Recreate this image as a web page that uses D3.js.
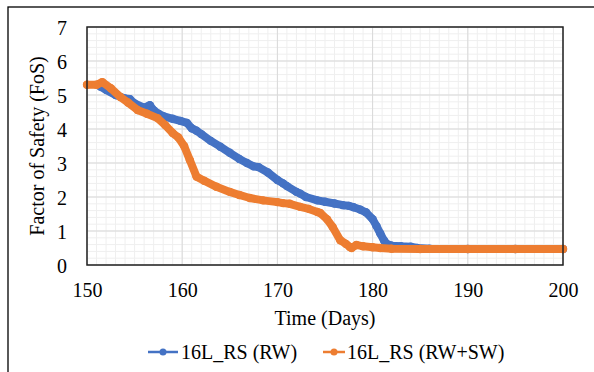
<!DOCTYPE html>
<html><head><meta charset="utf-8">
<script src="https://cdn.jsdelivr.net/npm/d3@7"></script>
<style>body{margin:0;background:#fff}svg{display:block}</style>
</head><body>
<script>
const days_RW = [151.4,152,153,154,154.5,155,156,156.6,157,157.5,158,159,159.8,160.5,161,161.5,162,163,164,165,166,166.8,167.5,168,169,170,170.6,171,172,172.4,173,174.2,175,176,176.9,177.5,178,178.7,179.3,180,180.4,180.8,181.2,181.5,182,183,184,184.7,186,190,195,200];
const fos_RW  = [5.25,5.15,5.0,4.9,4.88,4.75,4.63,4.7,4.55,4.45,4.38,4.3,4.24,4.18,4.02,3.95,3.85,3.65,3.48,3.3,3.12,3.0,2.9,2.88,2.72,2.5,2.4,2.32,2.15,2.1,2.0,1.9,1.86,1.81,1.76,1.74,1.7,1.63,1.55,1.35,1.15,0.93,0.72,0.62,0.57,0.55,0.54,0.5,0.48,0.47,0.47,0.47];
const days_RWSW = [150,151,151.6,152.5,153.5,154.3,155.3,156.3,157.4,158.2,159,159.6,160.2,160.8,161.5,162.3,163.6,165,166,167.1,168.5,170,170.6,171.3,172.4,173.3,174.2,174.5,175.2,175.8,176.6,177.2,177.6,177.8,178.3,179,180,180.8,182,185,190,195,200];
const fos_RWSW  = [5.3,5.3,5.38,5.2,4.94,4.78,4.56,4.45,4.32,4.12,3.88,3.75,3.5,3.09,2.6,2.48,2.3,2.15,2.06,1.97,1.9,1.85,1.82,1.8,1.71,1.65,1.56,1.53,1.35,1.12,0.73,0.62,0.53,0.5,0.59,0.55,0.52,0.5,0.48,0.47,0.47,0.47,0.47];
const xTicks = [150,160,170,180,190,200];
const yTicks = [0,1,2,3,4,5,6,7];
const seriesNames = ["16L_RS (RW)","16L_RS (RW+SW)"];
const colors = ["#4472C4","#ED7D31"];

const W=594,H=372;
const svg=d3.select("body").append("svg").attr("width",W).attr("height",H);
const font='Liberation Serif, DejaVu Serif, Times New Roman, Times, serif';
const fs="20px";
const m={l:87,r:563,t:27,b:265};
const x=d3.scaleLinear().domain([150,200]).range([m.l,m.r]);
const y=d3.scaleLinear().domain([0,7]).range([m.b,m.t]);

svg.append("rect").attr("x",8).attr("y",7).attr("width",700).attr("height",500).attr("fill","#fff").attr("stroke","#000").attr("stroke-width",1.3);

const g=svg.append("g");
g.selectAll(".mx").data(d3.range(150,200.01,1)).enter().append("line")
 .attr("x1",d=>x(d)).attr("x2",d=>x(d)).attr("y1",m.t).attr("y2",m.b).attr("stroke","#efefef").attr("stroke-width",1);
g.selectAll(".my").data(d3.range(0,7.01,0.2)).enter().append("line")
 .attr("y1",d=>y(d)).attr("y2",d=>y(d)).attr("x1",m.l).attr("x2",m.r).attr("stroke","#efefef").attr("stroke-width",1);
g.selectAll(".Mx").data(xTicks).enter().append("line")
 .attr("x1",d=>x(d)).attr("x2",d=>x(d)).attr("y1",m.t).attr("y2",m.b).attr("stroke","#d9d9d9").attr("stroke-width",1);
g.selectAll(".My").data(yTicks).enter().append("line")
 .attr("y1",d=>y(d)).attr("y2",d=>y(d)).attr("x1",m.l).attr("x2",m.r).attr("stroke","#d9d9d9").attr("stroke-width",1);

const xa=d3.axisBottom(x).tickValues(xTicks).tickFormat(d3.format("d")).tickSize(0).tickPadding(0);
const xg=svg.append("g").attr("transform",`translate(0,${m.b})`).call(xa);
xg.attr("font-family",null).attr("font-size",null);
xg.select(".domain").remove();
xg.selectAll("text").attr("fill","#000").attr("dy",null).attr("y",32).style("font-family",font).style("font-size",fs);
const ya=d3.axisLeft(y).tickValues(yTicks).tickFormat(d3.format("d")).tickSize(0).tickPadding(0);
const yg=svg.append("g").attr("transform",`translate(${m.l-20},0)`).call(ya);
yg.attr("font-family",null).attr("font-size",null);
yg.select(".domain").remove();
yg.selectAll("text").attr("fill","#000").attr("dy","0.35em").style("font-family",font).style("font-size",fs);

const line=d3.line().x(d=>x(d[0])).y(d=>y(d[1]));
const sets=[d3.zip(days_RW,fos_RW),d3.zip(days_RWSW,fos_RWSW)];
sets.forEach((s,i)=>{
  svg.append("path").datum(s).attr("d",line).attr("fill","none").attr("stroke",colors[i]).attr("stroke-width",8).attr("stroke-linejoin","round").attr("stroke-linecap","round");
  svg.append("g").selectAll("circle").data(s).enter().append("circle").attr("cx",d=>x(d[0])).attr("cy",d=>y(d[1])).attr("r",4.2).attr("fill",colors[i]);
});

svg.append("rect").attr("x",m.l).attr("y",m.t).attr("width",m.r-m.l).attr("height",m.b-m.t).attr("fill","none").attr("stroke","#222").attr("stroke-width",1.5);

svg.append("text").attr("x",(m.l+m.r)/2).attr("y",325).attr("text-anchor","middle").style("font-family",font).style("font-size",fs).text("Time (Days)");
svg.append("text").attr("transform",`translate(44,${(m.t+m.b)/2}) rotate(-90)`).attr("text-anchor","middle").style("font-family",font).style("font-size",fs).text("Factor of Safety (FoS)");

const leg=[{x0:148,x1:178,tx:181},{x0:323,x1:345,tx:347}];
leg.forEach((L,i)=>{
  svg.append("line").attr("x1",L.x0).attr("x2",L.x1).attr("y1",352).attr("y2",352).attr("stroke",colors[i]).attr("stroke-width",2.5);
  svg.append("circle").attr("cx",(L.x0+L.x1)/2).attr("cy",352).attr("r",3.5).attr("fill",colors[i]);
  svg.append("text").attr("x",L.tx).attr("y",359).style("font-family",font).style("font-size",fs).text(seriesNames[i]);
});
</script>
</body></html>
